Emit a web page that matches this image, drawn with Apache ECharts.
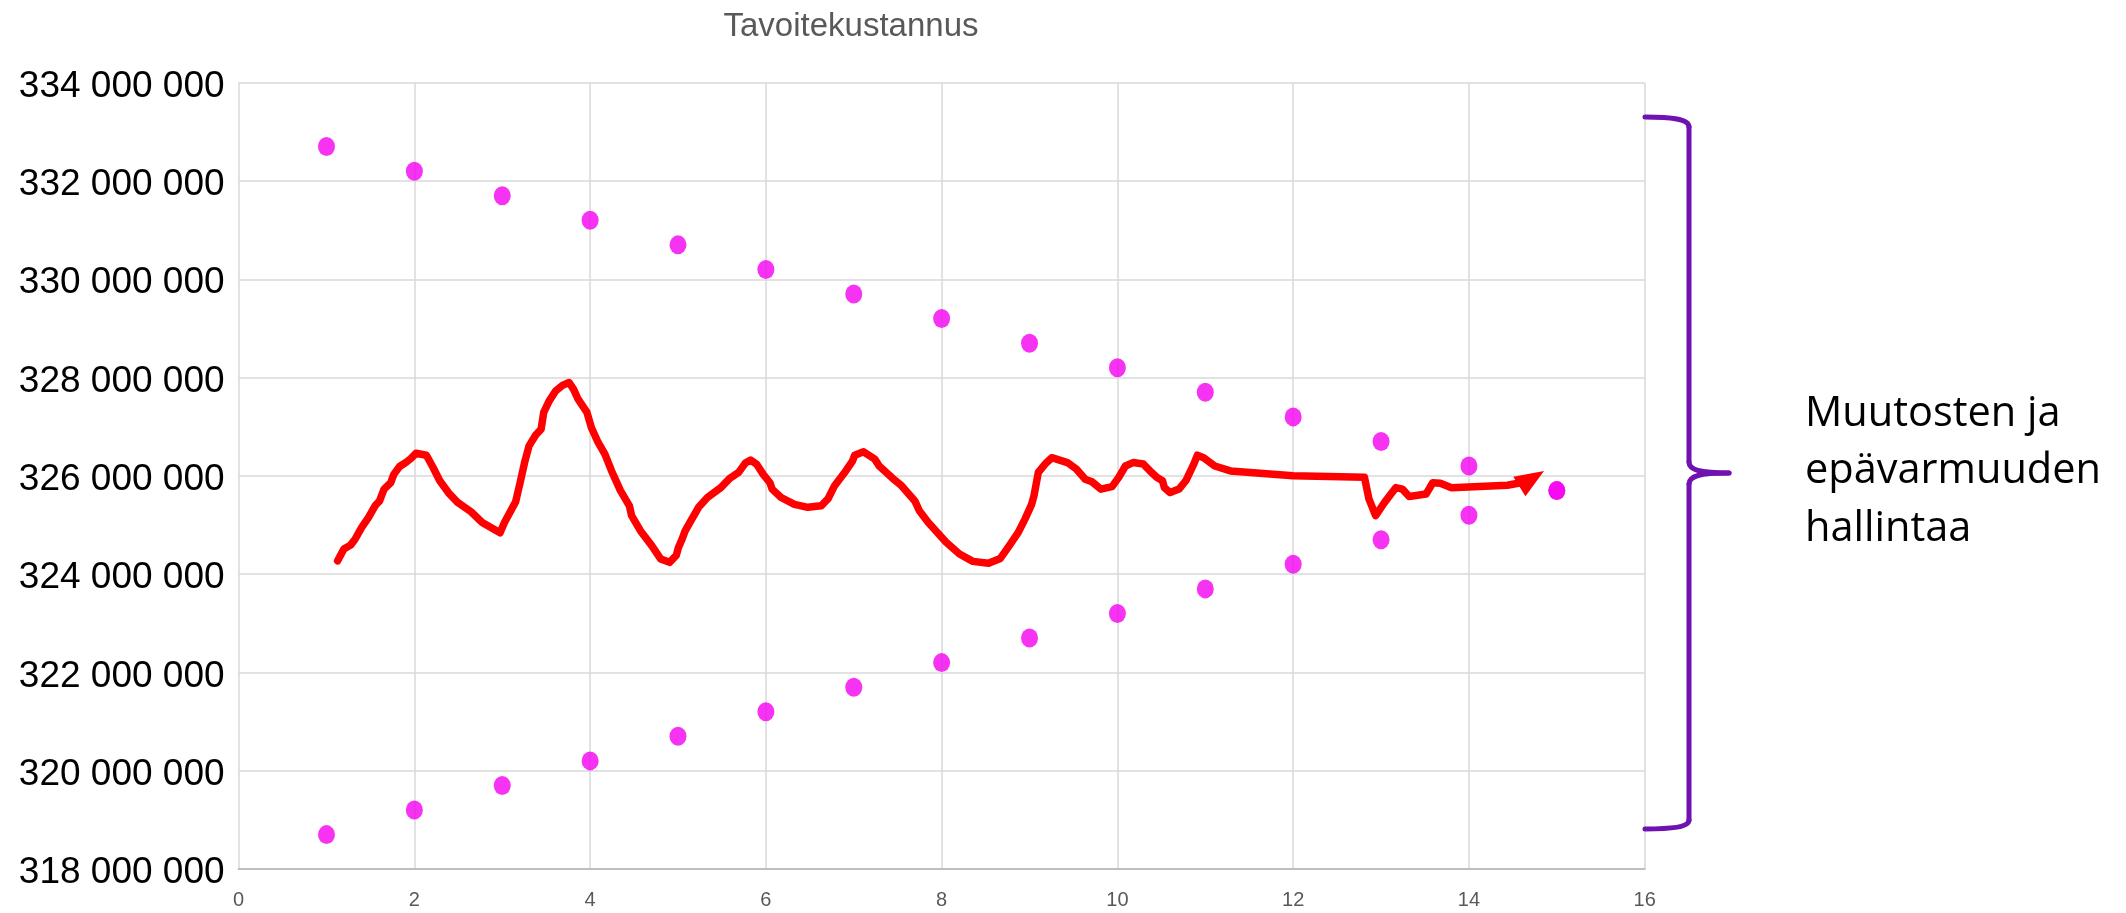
<!DOCTYPE html>
<html>
<head>
<meta charset="utf-8">
<script src="https://cdn.jsdelivr.net/npm/echarts@6/dist/echarts.min.js"></script>
<style>
  html, body { margin: 0; padding: 0; background: #ffffff; }
  #chart { width: 2126px; height: 913px; }
</style>
</head>
<body>
<div id="chart"></div>
<script>
// ---- data ----
const chartTitle = 'Tavoitekustannus';
const annotationLines = ['Muutosten ja', 'epävarmuuden', 'hallintaa'];

// x-axis ticks: 0..16 step 2 ; y-axis ticks 318 000 000 .. 334 000 000 step 2 000 000
const xTicks = [0, 2, 4, 6, 8, 10, 12, 14, 16];
const yTicksMillions = [318, 320, 322, 324, 326, 328, 330, 332, 334];

// dots (values in millions)
const dotX = [1, 2, 3, 4, 5, 6, 7, 8, 9, 10, 11, 12, 13, 14, 15];
const upperDots = [332.7, 332.2, 331.7, 331.2, 330.7, 330.2, 329.7, 329.2, 328.7, 328.2, 327.7, 327.2, 326.7, 326.2, 325.7];
const lowerDots = [318.7, 319.2, 319.7, 320.2, 320.7, 321.2, 321.7, 322.2, 322.7, 323.2, 323.7, 324.2, 324.7, 325.2, 325.7];

// hand-drawn red cost line (x, value in millions)
const lineX = [1.127, 1.198, 1.274, 1.325, 1.401, 1.477, 1.553, 1.604, 1.655, 1.731, 1.766, 1.832, 1.909, 1.959, 2.02, 2.137, 2.213, 2.289, 2.391, 2.492, 2.645, 2.772, 2.975, 3.025, 3.152, 3.203, 3.254, 3.305, 3.381, 3.442, 3.472, 3.533, 3.609, 3.685, 3.761, 3.812, 3.863, 3.964, 4.015, 4.091, 4.168, 4.244, 4.345, 4.447, 4.472, 4.574, 4.701, 4.802, 4.904, 4.980, 5.005, 5.046, 5.081, 5.157, 5.234, 5.335, 5.487, 5.589, 5.690, 5.766, 5.827, 5.893, 5.970, 6.046, 6.071, 6.173, 6.325, 6.477, 6.629, 6.706, 6.782, 6.909, 6.985, 7.010, 7.112, 7.239, 7.289, 7.442, 7.543, 7.695, 7.746, 7.848, 8.051, 8.203, 8.355, 8.533, 8.668, 8.770, 8.872, 8.948, 9.024, 9.050, 9.075, 9.100, 9.177, 9.253, 9.431, 9.532, 9.634, 9.710, 9.812, 9.939, 10.015, 10.091, 10.178, 10.295, 10.371, 10.447, 10.513, 10.534, 10.600, 10.701, 10.778, 10.869, 10.910, 10.981, 11.108, 11.286, 11.997, 12.811, 12.862, 12.938, 13.040, 13.167, 13.243, 13.320, 13.512, 13.588, 13.675, 13.802, 14.437, 14.590, 14.714];
const lineY = [324.27, 324.51, 324.59, 324.71, 324.95, 325.15, 325.39, 325.49, 325.73, 325.86, 326.03, 326.19, 326.28, 326.35, 326.46, 326.42, 326.17, 325.90, 325.65, 325.46, 325.27, 325.05, 324.84, 325.05, 325.47, 325.86, 326.27, 326.61, 326.83, 326.95, 327.29, 327.52, 327.73, 327.84, 327.90, 327.76, 327.56, 327.29, 326.98, 326.68, 326.44, 326.10, 325.70, 325.39, 325.19, 324.88, 324.58, 324.31, 324.24, 324.38, 324.54, 324.71, 324.88, 325.12, 325.36, 325.56, 325.76, 325.95, 326.07, 326.26, 326.32, 326.24, 326.03, 325.86, 325.73, 325.56, 325.42, 325.36, 325.39, 325.53, 325.80, 326.10, 326.30, 326.42, 326.49, 326.34, 326.20, 325.95, 325.80, 325.49, 325.29, 325.05, 324.65, 324.41, 324.26, 324.22, 324.32, 324.58, 324.85, 325.12, 325.42, 325.59, 325.83, 326.07, 326.24, 326.37, 326.27, 326.14, 325.93, 325.88, 325.73, 325.78, 325.97, 326.20, 326.27, 326.24, 326.10, 325.97, 325.90, 325.76, 325.66, 325.73, 325.90, 326.24, 326.42, 326.37, 326.20, 326.10, 326.00, 325.97, 325.53, 325.19, 325.46, 325.76, 325.73, 325.58, 325.63, 325.86, 325.85, 325.76, 325.81, 325.86, 325.94];

// ---- build ----
const fmtY = v => String(Math.round(v * 1e6)).replace(/\B(?=(\d{3})+(?!\d))/g, ' ');
const upperData = dotX.map((x, i) => [x, upperDots[i]]);
const lowerData = dotX.map((x, i) => [x, lowerDots[i]]);
const lineData = lineX.map((x, i) => {
  const p = { value: [x, lineY[i]] };
  if (i === lineX.length - 1) {
    p.symbol = 'triangle';
    p.symbolSize = [23, 29];
    p.symbolRotate = -58;
    p.itemStyle = { color: '#FF0000' };
  }
  return p;
});

const braceStyle = { fill: null, stroke: '#7012B0', lineWidth: 5, lineCap: 'round', lineJoin: 'round' };
const braceParts = [
  { type: 'bezierCurve', shape: { x1: 1645, y1: 117, cpx1: 1672, cpy1: 117, cpx2: 1689, cpy2: 119, x2: 1689, y2: 127 } },
  { type: 'line', shape: { x1: 1689, y1: 127, x2: 1689, y2: 462 } },
  { type: 'bezierCurve', shape: { x1: 1689, y1: 462, cpx1: 1689, cpy1: 470, cpx2: 1700, cpy2: 473, x2: 1729, y2: 473 } },
  { type: 'bezierCurve', shape: { x1: 1729, y1: 473, cpx1: 1700, cpy1: 473, cpx2: 1689, cpy2: 476, x2: 1689, y2: 484 } },
  { type: 'line', shape: { x1: 1689, y1: 484, x2: 1689, y2: 820 } },
  { type: 'bezierCurve', shape: { x1: 1689, y1: 820, cpx1: 1689, cpy1: 827, cpx2: 1672, cpy2: 829, x2: 1645, y2: 829 } }
].map(p => Object.assign(p, { style: braceStyle, z: 10 }));

const chart = echarts.init(document.getElementById('chart'), null, { renderer: 'canvas' });
chart.setOption({
  animation: false,
  backgroundColor: '#ffffff',
  title: {
    text: chartTitle,
    left: 846,
    top: 5,
    textAlign: 'center',
    textStyle: { fontFamily: 'Liberation Sans', fontSize: 33, fontWeight: 'normal', color: '#595959' }
  },
  grid: { left: 238.6, right: 481.3, top: 82.7, bottom: 44, containLabel: false },
  xAxis: {
    type: 'value',
    min: xTicks[0],
    max: xTicks[xTicks.length - 1],
    interval: 2,
    axisLine: { show: true, lineStyle: { color: '#BFBFBF', width: 2 } },
    axisTick: { show: false },
    axisLabel: { color: '#595959', fontFamily: 'Liberation Sans', fontSize: 20, margin: 21 },
    splitLine: { show: true, lineStyle: { color: '#D9D9D9', width: 1.5 } }
  },
  yAxis: {
    type: 'value',
    min: yTicksMillions[0],
    max: yTicksMillions[yTicksMillions.length - 1],
    interval: 2,
    axisLine: { show: false },
    axisTick: { show: false },
    axisLabel: {
      color: '#000000', fontFamily: 'Liberation Sans', fontSize: 37, margin: 14,
      verticalAlign: 'top', lineHeight: 8, formatter: fmtY
    },
    splitLine: { show: true, lineStyle: { color: '#D9D9D9', width: 1.5 } }
  },
  series: [
    {
      name: 'upper', type: 'scatter', data: upperData,
      symbol: 'circle', symbolSize: [17, 19],
      itemStyle: { color: '#F500F0' }
    },
    {
      name: 'lower', type: 'scatter', data: lowerData,
      symbol: 'circle', symbolSize: [17, 19],
      itemStyle: { color: '#F500F0' }
    },
    {
      name: 'cost', type: 'line', data: lineData,
      symbol: 'none', showSymbol: true, showAllSymbol: true,
      lineStyle: { color: '#FF0000', width: 7.5, cap: 'round', join: 'round' },
      itemStyle: { color: '#FF0000' },
      z: 5
    }
  ],
  graphic: braceParts.concat([
    {
      type: 'text',
      x: 1805,
      y: 385,
      style: {
        text: annotationLines.join('\n'),
        fontFamily: 'Open Sans',
        fontSize: 41.5,
        lineHeight: 57.5,
        fill: '#000000',
        verticalAlign: 'top',
        align: 'left'
      },
      z: 10
    }
  ])
});
</script>
</body>
</html>
